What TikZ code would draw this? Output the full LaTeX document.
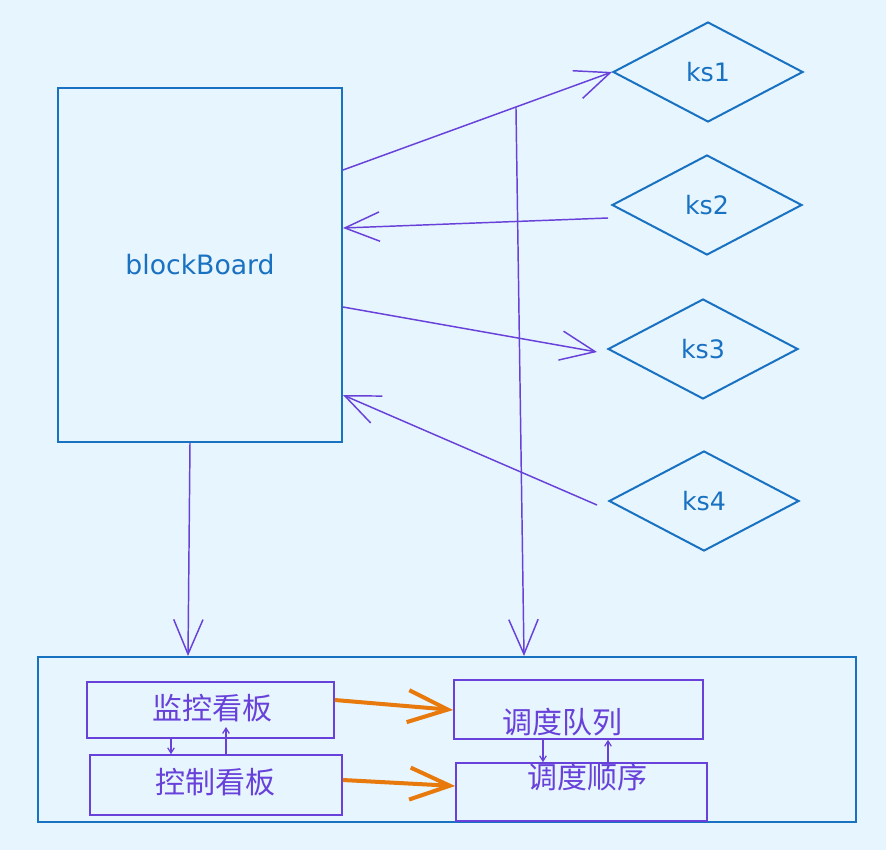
\documentclass[tikz,border=0pt]{standalone}
\usepackage{fontspec}
\setmainfont{DejaVu Sans}
\newfontfamily\cjk{Noto Sans CJK SC}
\usetikzlibrary{shapes.geometric,arrows.meta,calc}
\definecolor{bgc}{HTML}{E7F5FE}
\definecolor{blu}{HTML}{1971C2}
\definecolor{pur}{HTML}{6741D9}
\definecolor{ora}{HTML}{E8790C}
\tikzset{
  bbox/.style={draw=blu,line width=1.5pt,inner sep=0pt,text=blu,font=\fontsize{20}{24}\selectfont},
  dia/.style={diamond,draw=blu,line width=1.5pt,inner sep=0pt,minimum width=142.5pt,minimum height=75pt,text=blu,font=\fontsize{19}{22}\selectfont},
  pbox/.style={draw=pur,line width=1.2pt,inner sep=0pt},
  ptxt/.style={text=pur,font=\cjk\fontsize{22.5}{26}\selectfont,inner sep=0pt},
  parr/.style={draw=pur,line width=1.1pt,-{Straight Barb[length=26pt,width=22pt,line width=1.1pt]}},
  sarr/.style={draw=pur,line width=0.9pt,-{Straight Barb[length=4pt,width=5pt]}},
  oarr/.style={draw=ora,line width=3pt,-{Straight Barb[length=30pt,width=24pt,line width=3pt]}},
}
\begin{document}
\begin{tikzpicture}[x=0.75pt,y=-0.75pt]
\fill[bgc] (0,0) rectangle (886,850);
\useasboundingbox (0,0) rectangle (886,850);
% blockBoard
\node[bbox,minimum width=213pt,minimum height=265.5pt] (bb) at (200,265) {blockBoard};
% diamonds
\node[dia] (ks1) at (708,72) {ks1};
\node[dia] (ks2) at (707,205) {ks2};
\node[dia] (ks3) at (703,349) {ks3};
\node[dia] (ks4) at (704,501) {ks4};
% bottom container
\node[draw=blu,line width=1.5pt,minimum width=613.5pt,minimum height=123.75pt,inner sep=0pt] (outer) at (447,739.5) {};
\node[pbox,minimum width=185.25pt,minimum height=42pt] (jk) at (210.5,710) {};
\node[ptxt] at (212,708) {监控看板};
\node[pbox,minimum width=189pt,minimum height=45pt] (kz) at (216,785) {};
\node[ptxt] at (215,782) {控制看板};
\node[pbox,minimum width=186.75pt,minimum height=44.25pt] (dl) at (578.5,709.5) {};
\node[ptxt] at (562,722) {调度队列};
\node[pbox,minimum width=188.25pt,minimum height=43.5pt] (dx) at (581.5,792) {};
\node[ptxt] at (587,777) {调度顺序};
% arrows between blockBoard and ks
\coordinate (a1s) at (bb.east |- 0,170);
\draw[parr] (a1s) -- (ks1.west);
\coordinate (tap) at ($(a1s)!0.643!(ks1.west)$);
\draw[parr] ($(ks2.west)+(-3,13)$) -- (bb.east |- 0,228);
\draw[parr] (bb.east |- 0,307) -- ($(ks3.west)+(-10,3)$);
\draw[parr] ($(ks4.west)+(-11,4)$) -- (bb.east |- 0,395);
% verticals
\draw[parr] (tap) -- (outer.north -| 524,0);
\draw[parr] (bb.south -| 190,0) -- (outer.north -| 188,0);
% orange
\draw[oarr] (jk.east |- 0,700) -- (dl.west |- 0,710);
\draw[oarr] (kz.east |- 0,780) -- (dx.west |- 0,786);
% small arrows
\draw[sarr] (jk.south -| 171,0) -- (kz.north -| 171,0);
\draw[sarr] (kz.north -| 226,0) -- (226,727);
\draw[sarr] (dl.south -| 543,0) -- (dx.north -| 543,0);
\draw[sarr] (dx.north -| 608,0) -- (dl.south -| 608,0);
\end{tikzpicture}
\end{document}
